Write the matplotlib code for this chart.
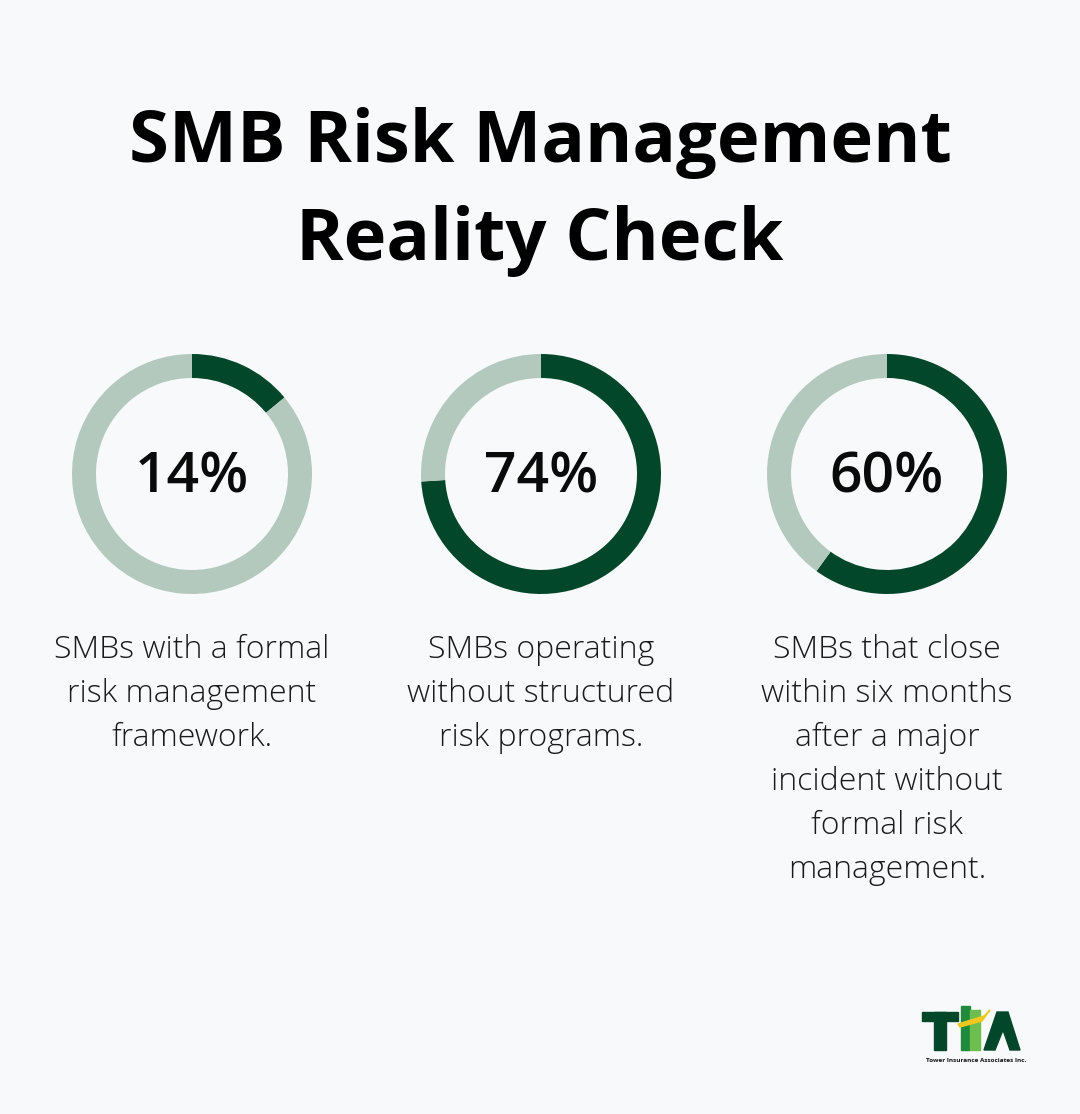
import matplotlib.pyplot as plt
from matplotlib.patches import Rectangle, Polygon

W, H = 1080, 1114
BG = "#F8F9FB"
DARK = "#03472A"
LIGHT = "#B3C9BD"

title_lines = ["SMB Risk Management", "Reality Check"]
percents = [14, 74, 60]
captions = [
    "SMBs with a formal\nrisk management\nframework.",
    "SMBs operating\nwithout structured\nrisk programs.",
    "SMBs that close\nwithin six months\nafter a major\nincident without\nformal risk\nmanagement.",
]
centers_x = [192, 541, 887]
center_y = 474
radius = 120


def fx(x):
    return x / W


def fy(y):
    return 1 - y / H


fig = plt.figure(figsize=(W / 100, H / 100), dpi=100)
fig.patch.set_facecolor(BG)

fig.text(0.5, fy(143), title_lines[0], ha="center", va="center",
         fontsize=52, fontweight="bold", family="Open Sans")
fig.text(0.5, fy(241), title_lines[1], ha="center", va="center",
         fontsize=52, fontweight="bold", family="Open Sans")

for cx, pct, cap in zip(centers_x, percents, captions):
    ax = fig.add_axes([fx(cx - radius), fy(center_y + radius),
                       2 * radius / W, 2 * radius / H])
    ax.pie([pct, 100 - pct], colors=[DARK, LIGHT], startangle=90,
           counterclock=False, radius=1,
           wedgeprops=dict(width=0.2, linewidth=0))
    ax.set_xlim(-1, 1)
    ax.set_ylim(-1, 1)
    ax.set_aspect("equal")
    ax.axis("off")
    fig.text(fx(cx), fy(center_y + 4), f"{pct}%", ha="center", va="center",
             fontsize=41, fontweight="semibold", family="Open Sans", color="#0A0A0A")
    fig.text(fx(cx), fy(634), cap, ha="center", va="top", fontsize=23,
             fontweight="light", family="Open Sans", color="#1A1A1A",
             linespacing=1.5)

# logo
lax = fig.add_axes([0, 0, 1, 1])
lax.set_xlim(0, W)
lax.set_ylim(H, 0)
lax.axis("off")
lax.add_patch(Rectangle((922, 1012), 36, 9, color=DARK))
lax.add_patch(Rectangle((934, 1012), 12, 38, color=DARK))
lax.add_patch(Rectangle((961, 1006), 9, 44, color="#1E8B3C"))
lax.add_patch(Rectangle((970, 1010), 10, 40, color="#6DBE4E"))
lax.add_patch(Polygon([[984, 1050], [997, 1012], [1008, 1012], [1020, 1050],
                       [1010, 1050], [1003, 1030], [995, 1050]], color=DARK))
lax.add_patch(Polygon([[958, 1024], [984, 1016], [990, 1010], [982, 1021], [960, 1027]],
                      color="#F2C81E"))
lax.text(976, 1060, "Tower Insurance Associates Inc.", ha="center", va="center",
         fontsize=4.6, fontweight="bold", family="Open Sans", color="#111111")

fig.savefig("out.png", dpi=100, facecolor=BG)
